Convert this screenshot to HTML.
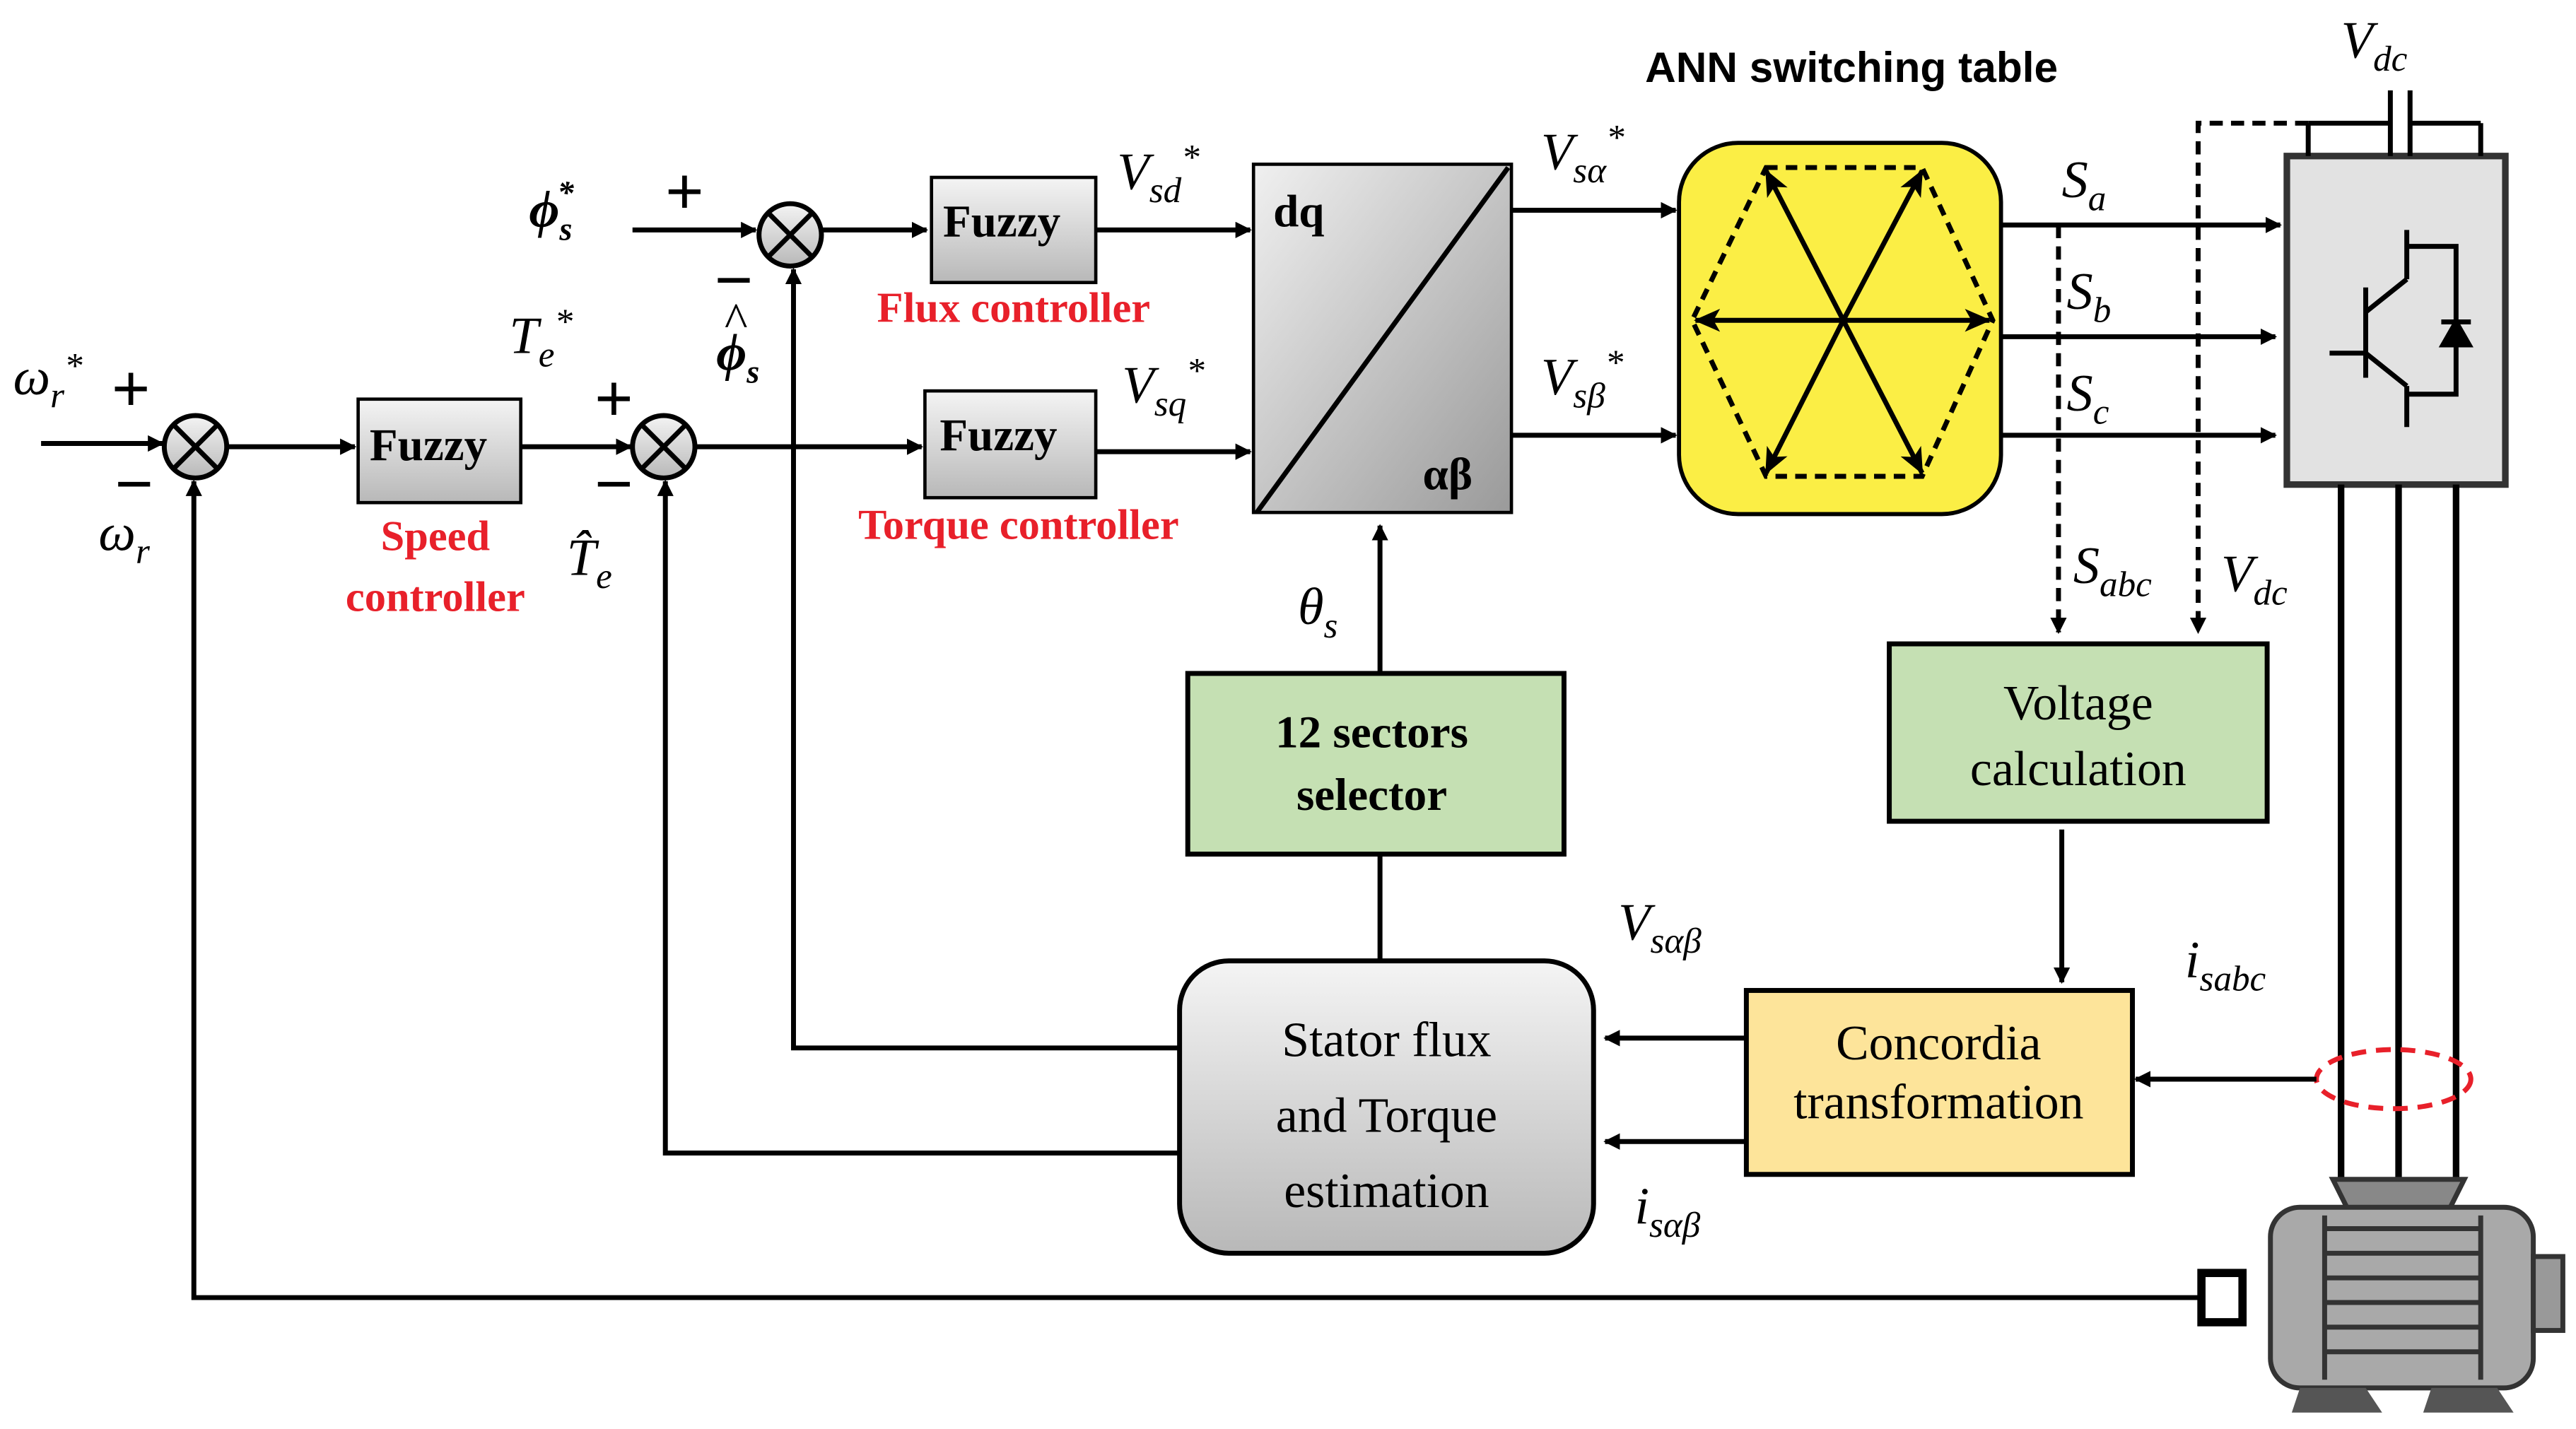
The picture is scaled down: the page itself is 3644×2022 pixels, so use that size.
<!DOCTYPE html>
<html><head><meta charset="utf-8"><style>
html,body{margin:0;padding:0;background:#fff;width:3644px;height:2022px;overflow:hidden}
svg{display:block}
.m{font-family:"Liberation Serif",serif;font-style:italic;font-size:32px;fill:#000}
.b{font-family:"Liberation Serif",serif;font-weight:bold;font-size:28px;fill:#000}
.r{font-family:"Liberation Serif",serif;font-weight:bold;font-size:26px;fill:#e8202a}
.t{font-family:"Liberation Serif",serif;font-size:30px;fill:#000}
.s{font-family:"Liberation Sans",sans-serif;font-size:40px;fill:#000}
</style></head><body>
<svg width="3644" height="2022" viewBox="0 0 1568 870" preserveAspectRatio="none" xmlns="http://www.w3.org/2000/svg">
<defs>
<marker id="a" markerWidth="10" markerHeight="10" refX="9" refY="5" orient="auto" markerUnits="userSpaceOnUse" viewBox="0 0 10 10"><path d="M0,0 L10,5 L0,10 z" fill="#000"/></marker>
<marker id="ah" markerWidth="16" markerHeight="16" refX="15" refY="8" orient="auto" markerUnits="userSpaceOnUse" viewBox="0 0 16 16"><path d="M0,1 L16,8 L0,15 L4,8 z" fill="#000"/></marker>
<linearGradient id="g" x1="0" y1="0" x2="0" y2="1"><stop offset="0" stop-color="#f4f4f4"/><stop offset="1" stop-color="#b8b8b8"/></linearGradient>
<linearGradient id="g2" x1="0" y1="0" x2="1" y2="1"><stop offset="0" stop-color="#f0f0f0"/><stop offset="1" stop-color="#9a9a9a"/></linearGradient>
</defs>
<g stroke="#000" stroke-width="3" fill="none">
<line x1="25" y1="270" x2="99" y2="270" marker-end="url(#a)"/>
<circle cx="119" cy="272" r="19" fill="url(#g)"/>
<line x1="106" y1="259" x2="132" y2="285"/><line x1="132" y1="259" x2="106" y2="285"/>
<line x1="138" y1="272" x2="216" y2="272" marker-end="url(#a)"/>
<rect x="218" y="243" width="99" height="63" fill="url(#g)" stroke-width="2"/>
<line x1="317" y1="272" x2="384" y2="272" marker-end="url(#a)"/>
<circle cx="404" cy="272" r="19" fill="url(#g)"/>
<line x1="391" y1="259" x2="417" y2="285"/><line x1="417" y1="259" x2="391" y2="285"/>
<line x1="423" y1="272" x2="561" y2="272" marker-end="url(#a)"/>
<rect x="563" y="238" width="104" height="65" fill="url(#g)" stroke-width="2"/>
<line x1="667" y1="275" x2="761" y2="275" marker-end="url(#a)"/>
<line x1="385" y1="140" x2="460" y2="140" marker-end="url(#a)"/>
<circle cx="481" cy="143" r="19" fill="url(#g)"/>
<line x1="468" y1="130" x2="494" y2="156"/><line x1="494" y1="130" x2="468" y2="156"/>
<line x1="500" y1="140" x2="564" y2="140" marker-end="url(#a)"/>
<rect x="567" y="108" width="100" height="64" fill="url(#g)" stroke-width="2"/>
<line x1="667" y1="140" x2="761" y2="140" marker-end="url(#a)"/>
<rect x="763" y="100" width="157" height="212" fill="url(#g2)" stroke-width="2"/>
<line x1="765" y1="312" x2="918" y2="102" stroke-width="3"/>
<line x1="920" y1="128" x2="1020" y2="128" marker-end="url(#a)"/>
<line x1="920" y1="265" x2="1020" y2="265" marker-end="url(#a)"/>
<rect x="1022" y="87" width="196" height="226" rx="36" fill="#fbee45" stroke-width="2.5"/>
<polygon points="1075,102 1170,102 1213,195 1170,290 1075,290 1030,195" stroke-dasharray="7,5" stroke-width="3"/>
<g stroke-width="3">
<line x1="1122" y1="195" x2="1075" y2="104" marker-end="url(#ah)"/>
<line x1="1122" y1="195" x2="1170" y2="104" marker-end="url(#ah)"/>
<line x1="1122" y1="195" x2="1211" y2="195" marker-end="url(#ah)"/>
<line x1="1122" y1="195" x2="1170" y2="288" marker-end="url(#ah)"/>
<line x1="1122" y1="195" x2="1075" y2="288" marker-end="url(#ah)"/>
<line x1="1122" y1="195" x2="1032" y2="195" marker-end="url(#ah)"/>
</g>
<line x1="1218" y1="137" x2="1388" y2="137" marker-end="url(#a)"/>
<line x1="1218" y1="205" x2="1385" y2="205" marker-end="url(#a)"/>
<line x1="1218" y1="265" x2="1385" y2="265" marker-end="url(#a)"/>
<line x1="1253" y1="137" x2="1253" y2="385" stroke-dasharray="8,5" marker-end="url(#a)"/>
<polyline points="1405,75 1338,75 1338,385" stroke-dasharray="8,5" marker-end="url(#a)"/>
<rect x="1392" y="95" width="133" height="200" fill="#e2e2e2" stroke="#333" stroke-width="4"/>
<line x1="1405" y1="75" x2="1405" y2="95"/><line x1="1510" y1="75" x2="1510" y2="95"/>
<line x1="1405" y1="75" x2="1455" y2="75"/><line x1="1467" y1="75" x2="1510" y2="75"/>
<line x1="1455" y1="55" x2="1455" y2="95"/><line x1="1467" y1="55" x2="1467" y2="95"/>
<g stroke-width="3">
<line x1="1440" y1="175" x2="1440" y2="230"/>
<line x1="1418" y1="215" x2="1440" y2="215"/>
<line x1="1440" y1="190" x2="1465" y2="170"/><line x1="1465" y1="170" x2="1465" y2="140"/>
<line x1="1440" y1="215" x2="1465" y2="235"/><line x1="1465" y1="235" x2="1465" y2="260"/>
<polyline points="1465,150 1495,150 1495,240 1465,240"/>
<polygon points="1487,210 1503,210 1495,196" fill="#000"/><line x1="1486" y1="196" x2="1504" y2="196"/>
</g>
<line x1="1425" y1="295" x2="1425" y2="720" stroke-width="4"/>
<line x1="1460" y1="295" x2="1460" y2="720" stroke-width="4"/>
<line x1="1495" y1="295" x2="1495" y2="720" stroke-width="4"/>
<ellipse cx="1457" cy="657" rx="47" ry="18" stroke="#e8202a" stroke-dasharray="9,6" stroke-width="3"/>
<polygon points="1420,718 1500,718 1490,738 1430,738" fill="#888" stroke="#333"/>
<rect x="1382" y="735" width="160" height="110" rx="18" fill="#a9a9a9" stroke="#333"/>
<g stroke="#333" stroke-width="3">
<line x1="1415" y1="748" x2="1510" y2="748"/><line x1="1415" y1="763" x2="1510" y2="763"/>
<line x1="1415" y1="778" x2="1510" y2="778"/><line x1="1415" y1="793" x2="1510" y2="793"/>
<line x1="1415" y1="808" x2="1510" y2="808"/><line x1="1415" y1="823" x2="1510" y2="823"/>
<line x1="1415" y1="740" x2="1415" y2="840"/><line x1="1510" y1="740" x2="1510" y2="840"/>
</g>
<rect x="1542" y="765" width="18" height="45" fill="#999" stroke="#333"/>
<rect x="1340" y="775" width="25" height="30" fill="#fff" stroke-width="5"/>
<polygon points="1400,845 1440,845 1450,860 1395,860" fill="#555" stroke="none"/>
<polygon points="1480,845 1520,845 1530,860 1475,860" fill="#555" stroke="none"/>
<rect x="1150" y="392" width="230" height="108" fill="#c5e0b3" stroke-width="3"/>
<line x1="1255" y1="505" x2="1255" y2="598" marker-end="url(#a)"/>
<rect x="1063" y="603" width="235" height="112" fill="#fde49a" stroke-width="3"/>
<line x1="1410" y1="657" x2="1300" y2="657" marker-end="url(#a)"/>
<line x1="1063" y1="632" x2="977" y2="632" marker-end="url(#a)"/>
<line x1="1063" y1="695" x2="977" y2="695" marker-end="url(#a)"/>
<rect x="718" y="585" width="252" height="178" rx="30" fill="url(#g)" stroke-width="3"/>
<line x1="840" y1="585" x2="840" y2="520"/>
<rect x="723" y="410" width="229" height="110" fill="#c5e0b3" stroke-width="3"/>
<line x1="840" y1="410" x2="840" y2="320" marker-end="url(#a)"/>
<polyline points="718,638 483,638 483,164" marker-end="url(#a)"/>
<polyline points="718,702 405,702 405,293" marker-end="url(#a)"/>
<polyline points="1340,790 118,790 118,293" marker-end="url(#a)"/>
</g>
<text x="8" y="240" class="m">ω<tspan font-size="22" dy="8">r</tspan><tspan font-size="22" dy="-18">*</tspan></text>
<text x="68" y="250" class="s">+</text>
<text x="70" y="308" class="s">−</text>
<text x="60" y="335" class="m">ω<tspan font-size="22" dy="8">r</tspan></text>
<text x="225" y="280" class="b">Fuzzy</text>
<text x="265" y="335" class="r" text-anchor="middle">Speed</text>
<text x="265" y="372" class="r" text-anchor="middle">controller</text>
<text x="310" y="215" class="m">T<tspan font-size="22" dy="8">e</tspan><tspan font-size="22" dy="-20">*</tspan></text>
<text x="362" y="256" class="s">+</text>
<text x="362" y="308" class="s">−</text>
<text x="345" y="350" class="m">T̂<tspan font-size="22" dy="8">e</tspan></text>
<text x="572" y="274" class="b">Fuzzy</text>
<text x="620" y="328" class="r" text-anchor="middle">Torque controller</text>
<text x="683" y="245" class="m">V<tspan font-size="22" dy="8">sq</tspan><tspan font-size="22" dy="-20">*</tspan></text>
<text x="322" y="138" class="m" font-weight="bold">ϕ<tspan font-size="20" dy="8">s</tspan><tspan font-size="20" dx="-9" dy="-22">*</tspan></text>
<text x="405" y="130" class="s">+</text>
<text x="435" y="184" class="s">−</text>
<text x="436" y="225" class="m" font-weight="bold">ϕ<tspan font-size="20" dy="8">s</tspan></text>
<text x="441" y="205" class="t" font-size="26">^</text>
<text x="574" y="144" class="b">Fuzzy</text>
<text x="617" y="196" class="r" text-anchor="middle">Flux controller</text>
<text x="680" y="115" class="m">V<tspan font-size="22" dy="8">sd</tspan><tspan font-size="22" dy="-20">*</tspan></text>
<text x="775" y="138" class="b" font-size="34" font-family="Liberation Sans">dq</text>
<text x="866" y="298" class="b" font-size="32" font-family="Liberation Sans">αβ</text>
<text x="938" y="103" class="m">V<tspan font-size="22" dy="8">sα</tspan><tspan font-size="22" dy="-20">*</tspan></text>
<text x="938" y="240" class="m">V<tspan font-size="22" dy="8">sβ</tspan><tspan font-size="22" dy="-20">*</tspan></text>
<text x="1127" y="50" font-family="Liberation Sans" font-weight="bold" font-size="26" text-anchor="middle">ANN switching table</text>
<text x="1255" y="120" class="m">S<tspan font-size="22" dy="8">a</tspan></text>
<text x="1258" y="188" class="m">S<tspan font-size="22" dy="8">b</tspan></text>
<text x="1258" y="250" class="m">S<tspan font-size="22" dy="8">c</tspan></text>
<text x="1262" y="355" class="m">S<tspan font-size="22" dy="8">abc</tspan></text>
<text x="1352" y="360" class="m">V<tspan font-size="22" dy="8">dc</tspan></text>
<text x="1425" y="35" class="m">V<tspan font-size="22" dy="8">dc</tspan></text>
<text x="1265" y="438" class="t" text-anchor="middle">Voltage</text>
<text x="1265" y="478" class="t" text-anchor="middle">calculation</text>
<text x="1180" y="645" class="t" font-size="26" text-anchor="middle">Concordia</text>
<text x="1180" y="681" class="t" font-size="26" text-anchor="middle">transformation</text>
<text x="1330" y="595" class="m">i<tspan font-size="22" dy="8">sabc</tspan></text>
<text x="985" y="572" class="m">V<tspan font-size="22" dy="8">sαβ</tspan></text>
<text x="995" y="745" class="m">i<tspan font-size="22" dy="8">sαβ</tspan></text>
<text x="844" y="643" class="t" font-size="32" text-anchor="middle">Stator flux</text>
<text x="844" y="689" class="t" font-size="32" text-anchor="middle">and Torque</text>
<text x="844" y="735" class="t" font-size="32" text-anchor="middle">estimation</text>
<text x="835" y="455" class="b" text-anchor="middle">12 sectors</text>
<text x="835" y="493" class="b" text-anchor="middle">selector</text>
<text x="790" y="380" class="m">θ<tspan font-size="22" dy="8">s</tspan></text>
</svg>
</body></html>
